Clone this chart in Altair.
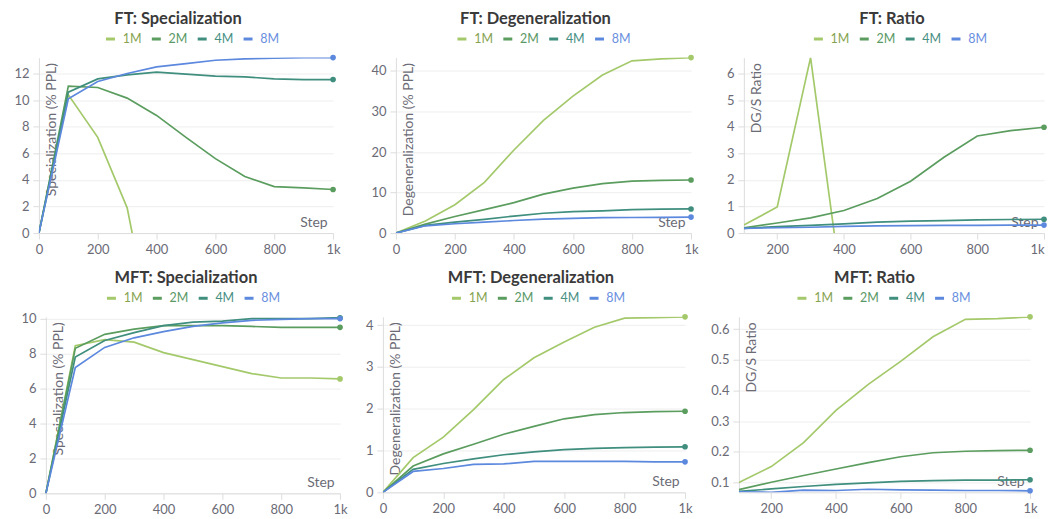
import altair as alt
import pandas as pd

# ---------------- data ----------------
STEPS = [0, 100, 200, 300, 400, 500, 600, 700, 800, 900, 1000]
RATIO_STEPS = [100, 200, 300, 400, 500, 600, 700, 800, 900, 1000]
SERIES = ["1M", "2M", "4M", "8M"]
LINE_COLORS = ["#a4c96b", "#5b9d5f", "#3f8e7e", "#5c88de"]
LABEL_COLORS = ["#86a352", "#5a9866", "#488f84", "#6a8fe0"]

# FT: Specialization (% PPL)
ft_spec_1m = [0, 10.4, 7.2, 1.9, -9.2]
ft_spec_2m = [0, 11.05, 10.95, 10.15, 8.85, 7.2, 5.6, 4.25, 3.5, 3.4, 3.28]
ft_spec_4m = [0, 10.6, 11.6, 11.9, 12.1, 11.95, 11.8, 11.75, 11.6, 11.55, 11.55]
ft_spec_8m = [0, 10.1, 11.4, 12.0, 12.5, 12.75, 13.0, 13.1, 13.15, 13.2, 13.2]

# FT: Degeneralization (% PPL)
ft_deg_1m = [0, 3.0, 7.0, 12.5, 20.5, 27.8, 33.8, 39.0, 42.5, 43.0, 43.3]
ft_deg_2m = [0, 2.2, 4.1, 5.8, 7.5, 9.6, 11.1, 12.2, 12.8, 13.0, 13.1]
ft_deg_4m = [0, 1.9, 2.7, 3.4, 4.2, 4.9, 5.3, 5.5, 5.8, 5.9, 5.95]
ft_deg_8m = [0, 1.8, 2.3, 2.7, 3.1, 3.45, 3.65, 3.8, 3.85, 3.9, 3.95]

# FT: Ratio (DG/S)
ft_ratio_1m = [0.3, 0.98, 6.6, -2.7]
ft_ratio_2m = [0.2, 0.38, 0.57, 0.85, 1.3, 1.95, 2.85, 3.65, 3.85, 3.98]
ft_ratio_4m = [0.18, 0.24, 0.29, 0.35, 0.41, 0.45, 0.47, 0.5, 0.51, 0.52]
ft_ratio_8m = [0.18, 0.2, 0.22, 0.25, 0.27, 0.28, 0.29, 0.29, 0.3, 0.3]

# MFT: Specialization (% PPL)
mft_spec_1m = [0, 8.45, 8.8, 8.65, 8.05, 7.65, 7.25, 6.85, 6.6, 6.6, 6.55]
mft_spec_2m = [0, 8.3, 9.1, 9.4, 9.6, 9.6, 9.6, 9.55, 9.5, 9.5, 9.5]
mft_spec_4m = [0, 7.8, 8.75, 9.2, 9.6, 9.8, 9.85, 10.0, 10.0, 10.0, 10.05]
mft_spec_8m = [0, 7.2, 8.35, 8.9, 9.25, 9.55, 9.75, 9.9, 9.95, 10.0, 10.0]

# MFT: Degeneralization (% PPL)
mft_deg_1m = [0, 0.83, 1.32, 1.98, 2.7, 3.22, 3.6, 3.95, 4.17, 4.18, 4.2]
mft_deg_2m = [0, 0.63, 0.92, 1.15, 1.39, 1.58, 1.76, 1.86, 1.91, 1.93, 1.94]
mft_deg_4m = [0, 0.55, 0.69, 0.8, 0.9, 0.97, 1.02, 1.05, 1.07, 1.08, 1.09]
mft_deg_8m = [0, 0.5, 0.57, 0.67, 0.68, 0.74, 0.74, 0.74, 0.74, 0.73, 0.73]

# MFT: Ratio (DG/S)
mft_ratio_1m = [0.1, 0.152, 0.23, 0.335, 0.42, 0.495, 0.575, 0.632, 0.634, 0.64]
mft_ratio_2m = [0.077, 0.101, 0.123, 0.144, 0.165, 0.184, 0.197, 0.202, 0.204, 0.205]
mft_ratio_4m = [0.071, 0.079, 0.087, 0.094, 0.099, 0.104, 0.106, 0.108, 0.108, 0.109]
mft_ratio_8m = [0.07, 0.068, 0.075, 0.074, 0.078, 0.076, 0.075, 0.074, 0.074, 0.073]

X_TICKS_FULL = [0, 200, 400, 600, 800, 1000]
X_TICKS_RATIO = [200, 400, 600, 800, 1000]

FONT = "Lato"
TEXT_GRAY = "#6b6b76"
LEGEND_HALF = 82

label_color_expr = " : ".join(
    f"datum.value === '{s}' ? '{c}'" for s, c in zip(SERIES[:-1], LABEL_COLORS[:-1])
) + f" : '{LABEL_COLORS[-1]}'"


def panel(title, lists, steps, xdom, xticks, ydom, yticks, ytitle, width, height, yext,
          flush=False, inset=0, title_dx=0, legend_dx=0):
    rows = []
    for name, vals in zip(SERIES, lists):
        for s, v in zip(steps, vals):
            rows.append({"step": s, "value": v, "run": name})
    df = pd.DataFrame(rows)

    xscale = alt.Scale(domain=xdom, nice=False, zero=False)
    if inset:
        xscale = alt.Scale(domain=xdom, nice=False, zero=False, range=[inset, width])
    plot_w = width - inset
    x = alt.X(
        "step:Q",
        scale=xscale,
        axis=alt.Axis(
            values=xticks,
            labelExpr="datum.value >= 1000 ? '1k' : datum.label",
            labelFlush=flush,
            title="Step",
            titleX=width - 6,
            titleY=-11,
            titleAlign="right",
            titleBaseline="middle",
            grid=False,
            tickSize=6,
        ),
    )
    y = alt.Y(
        "value:Q",
        scale=alt.Scale(domain=ydom, nice=False, zero=False),
        axis=alt.Axis(
            values=yticks,
            title=ytitle,
            titleAngle=270,
            titleX=13,
            titleY=5,
            titleAlign="right",
            titleBaseline="middle",
            grid=True,
            tickSize=6,
            minExtent=yext,
            maxExtent=yext,
            offset=-inset,
        ),
    )
    scale = alt.Scale(domain=SERIES, range=LINE_COLORS)
    legend = alt.Legend(
        title=None,
        orient="none",
        direction="horizontal",
        legendX=inset + plot_w / 2 + legend_dx - LEGEND_HALF,
        legendY=-25,
        symbolType="stroke",
        symbolStrokeWidth=3,
        symbolSize=81,
        labelFontSize=12.5,
        labelFont=FONT,
        labelColor={"expr": label_color_expr},
        columnPadding=3,
        labelOffset=6,
    )
    base = alt.Chart(df)
    lines = base.mark_line(clip=True, strokeWidth=1.7).encode(
        x=x, y=y, color=alt.Color("run:N", scale=scale, legend=legend), order="step:Q"
    )
    pts = (
        base.transform_joinaggregate(last="max(step)", groupby=["run"])
        .transform_filter("datum.step == datum.last")
        .transform_filter("datum.value >= 0")
        .mark_circle(size=32, opacity=1)
        .encode(x=x, y=y, color=alt.Color("run:N", scale=scale, legend=None))
    )
    return alt.layer(lines, pts).properties(
        width=width,
        height=height,
        title=alt.TitleParams(title, anchor="middle", frame="group", offset=5,
                              dx=inset / 2 + title_dx),
    )


p1 = panel("FT: Specialization", [ft_spec_1m, ft_spec_2m, ft_spec_4m, ft_spec_8m], STEPS,
           [0, 1000], X_TICKS_FULL, [0, 13.2], [0, 2, 4, 6, 8, 10, 12],
           "Specialization (% PPL)", 295, 176, 25, title_dx=-8, legend_dx=0)
p2 = panel("FT: Degeneralization", [ft_deg_1m, ft_deg_2m, ft_deg_4m, ft_deg_8m], STEPS,
           [0, 1000], X_TICKS_FULL, [0, 43.3], [0, 10, 20, 30, 40],
           "Degeneralization (% PPL)", 296, 176, 35, title_dx=-8, legend_dx=-6)
p3 = panel("FT: Ratio", [ft_ratio_1m, ft_ratio_2m, ft_ratio_4m, ft_ratio_8m], RATIO_STEPS,
           [100, 1000], X_TICKS_RATIO, [0, 6.6], [0, 1, 2, 3, 4, 5, 6],
           "DG/S Ratio", 301, 176, 25, flush=True, title_dx=-2, legend_dx=0)
p4 = panel("MFT: Specialization", [mft_spec_1m, mft_spec_2m, mft_spec_4m, mft_spec_8m], STEPS,
           [0, 1000], X_TICKS_FULL, [0, 10.1], [0, 2, 4, 6, 8, 10],
           "Specialization (% PPL)", 302, 177, 32, inset=7, title_dx=-7, legend_dx=-6)
p5 = panel("MFT: Degeneralization", [mft_deg_1m, mft_deg_2m, mft_deg_4m, mft_deg_8m], STEPS,
           [0, 1000], X_TICKS_FULL, [0, 4.2], [0, 1, 2, 3, 4],
           "Degeneralization (% PPL)", 303, 176, 19, title_dx=-3, legend_dx=-2)
p6 = panel("MFT: Ratio", [mft_ratio_1m, mft_ratio_2m, mft_ratio_4m, mft_ratio_8m], RATIO_STEPS,
           [100, 1000], X_TICKS_RATIO, [0.068, 0.64], [0.1, 0.2, 0.3, 0.4, 0.5, 0.6],
           "DG/S Ratio", 292, 176, 30, title_dx=-10, legend_dx=-7)

row1 = alt.hconcat(p1, p2, p3, spacing=20).resolve_scale(color="independent")
row2 = alt.hconcat(p4, p5, p6, spacing=16).resolve_scale(color="independent")

chart = (
    alt.vconcat(row1, row2, spacing=14)
    .resolve_scale(color="independent")
    .properties(padding={"left": 5, "top": 2, "right": 0, "bottom": 0})
    .configure_view(stroke=None)
    .configure_axis(
        labelFont=FONT,
        labelFontSize=13,
        labelColor=TEXT_GRAY,
        titleFont=FONT,
        titleFontSize=14,
        titleFontWeight="normal",
        titleColor=TEXT_GRAY,
        domainColor="#dddddd",
        tickColor="#dddddd",
        gridColor="#eeeeee",
        labelPadding=4,
    )
    .configure_title(font=FONT, fontSize=16.5, fontWeight="bold", color="#3a3a3a")
)

chart.save("out.html", embed_options={"renderer": "svg", "actions": False})
